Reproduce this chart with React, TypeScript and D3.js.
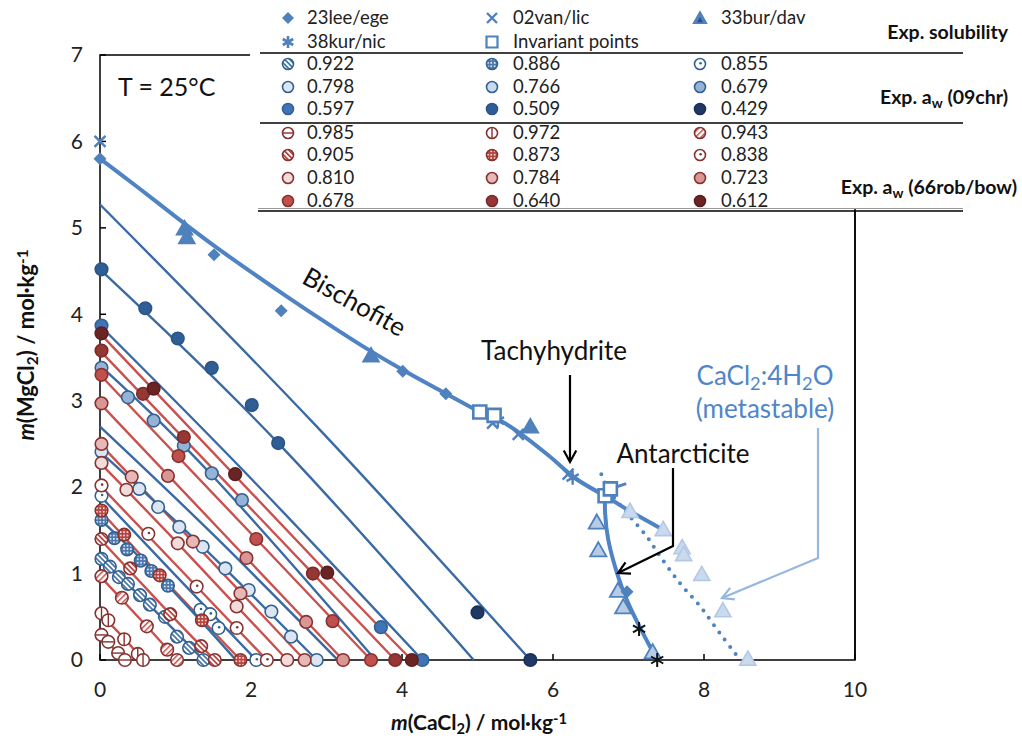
import React from "react";
import * as d3 from "d3";

type Pt = [number, number];

// ---------- axes ----------
const xTicks = [0, 2, 4, 6, 8, 10];
const yTicks = [0, 1, 2, 3, 4, 5, 6, 7];

// ---------- experimental solubility ----------
const lee23: Pt[] = [[0, 5.8], [1.51, 4.69], [2.4, 4.04], [4.01, 3.34], [4.58, 3.08], [6.98, 0.79]];
const van02: Pt[] = [[0, 6.0], [5.2, 2.74], [5.54, 2.61], [6.2, 2.15]];
const bur33: Pt[] = [[1.12, 4.98], [1.15, 4.88], [3.59, 3.51], [5.7, 2.69]];
const bur33Antarcticite: Pt[] = [[6.58, 1.58], [6.6, 1.26], [6.86, 0.79], [6.93, 0.6], [7.32, 0.08]];
const kur38: Pt[] = [[5.27, 2.77], [6.26, 2.11]];
const extraAsterisks: Pt[] = [[7.14, 0.36], [7.38, 0.0]];
const invariantPoints: Pt[] = [[5.03, 2.87], [5.22, 2.83], [6.69, 1.9], [6.76, 1.98]];
const metastableTriangles: Pt[] = [[7.02, 1.71], [7.46, 1.5], [7.71, 1.29], [7.73, 1.21], [7.97, 0.98], [8.25, 0.56], [8.58, 0.0]];

// ---------- solubility curves ----------
const bischofiteCurve: Pt[] = [[0, 5.8], [0.5, 5.47], [1, 5.13], [1.5, 4.8], [2, 4.49], [2.5, 4.19], [3, 3.9], [3.5, 3.62], [4, 3.36], [4.5, 3.12], [5.03, 2.87]];
const tachyhydriteCurve: Pt[] = [[5.03, 2.87], [5.3, 2.77], [5.6, 2.6], [5.95, 2.36], [6.3, 2.1], [6.69, 1.9]];
const antarcticiteCurve: Pt[] = [[6.69, 1.9], [6.69, 1.7], [6.73, 1.4], [6.85, 1.0], [6.98, 0.69], [7.15, 0.38], [7.38, 0]];
const antarcticiteUpper: Pt[] = [[6.69, 1.9], [7.02, 1.72], [7.47, 1.5]];
const shortBranch: Pt[] = [[6.76, 1.98], [6.97, 2.04]];
const tetrahydrateCurve: Pt[] = [[6.64, 2.15], [6.75, 1.95], [7.0, 1.68], [7.24, 1.43], [7.42, 1.2], [7.68, 0.89], [7.95, 0.62], [8.21, 0.31], [8.48, 0.0]];

// ---------- water activity, 09chr ----------
const chrLabels = ["0.922", "0.886", "0.855", "0.798", "0.766", "0.679", "0.597", "0.509", "0.429"];
const chrPoints: Pt[][] = [
  [[0.02, 1.17], [0.13, 1.08], [0.25, 0.96], [0.37, 0.88], [0.53, 0.75], [0.66, 0.64], [0.86, 0.5], [1.02, 0.27], [1.18, 0.14], [1.37, 0]],
  [[0.02, 1.62], [0.19, 1.41], [0.36, 1.28], [0.54, 1.15], [0.68, 1.03], [0.9, 0.86]],
  [[0.02, 1.9], [1.33, 0.58], [1.46, 0.53], [1.57, 0.37], [2.07, 0]],
  [[0.02, 2.41], [0.52, 1.98], [0.77, 1.77], [1.05, 1.54], [1.36, 1.31], [1.66, 1.06], [1.97, 0.81], [2.27, 0.56], [2.53, 0.27], [2.87, 0]],
  [],
  [[0.02, 3.38], [0.37, 3.04], [0.71, 2.77], [1.11, 2.48], [1.48, 2.16], [1.88, 1.85]],
  [[0.02, 3.87], [3.72, 0.38], [4.27, 0]],
  [[0.02, 4.52], [0.6, 4.07], [1.03, 3.72], [1.48, 3.38], [2.01, 2.95], [2.36, 2.51]],
  [[5.0, 0.55], [5.7, 0]],
];
const chrLines: Pt[][] = [
  [[0, 1.17], [0.66, 0.63], [1.37, 0]],
  [[0, 1.63], [0.9, 0.86], [1.8, 0]],
  [[0, 1.9], [1.0, 0.98], [2.07, 0]],
  [[0, 2.41], [1.36, 1.31], [2.87, 0]],
  [[0, 2.7], [1.5, 1.45], [3.15, 0]],
  [[0, 3.41], [1.48, 2.14], [3.65, 0]],
  [[0, 3.87], [2.0, 2.1], [4.27, 0]],
  [[0, 4.52], [2.36, 2.51], [4.95, 0]],
  [[0, 5.27], [2.85, 2.72], [5.7, 0]],
];

// ---------- water activity, 66rob/bow ----------
const robLabels = ["0.985", "0.972", "0.943", "0.905", "0.873", "0.838", "0.810", "0.784", "0.723", "0.678", "0.640", "0.612"];
const robPoints: Pt[][] = [
  [[0.02, 0.29], [0.11, 0.21], [0.24, 0.08], [0.33, 0]],
  [[0.02, 0.54], [0.11, 0.46], [0.32, 0.24], [0.5, 0.07], [0.57, 0]],
  [[0.02, 0.97], [0.29, 0.72], [0.62, 0.39], [0.89, 0.12], [1.02, 0]],
  [[0.02, 1.4], [0.4, 1.06], [0.93, 0.53], [1.34, 0.16], [1.52, 0]],
  [[0.02, 1.73], [0.32, 1.45], [0.79, 0.98], [1.35, 0.46], [1.86, 0]],
  [[0.02, 2.02], [0.64, 1.46], [1.28, 0.85], [1.81, 0.37], [2.21, 0]],
  [[0.02, 2.28], [0.35, 1.97], [1.03, 1.35], [1.81, 0.62], [2.48, 0]],
  [[0.02, 2.5], [0.42, 2.12], [1.23, 1.37], [1.86, 0.77], [2.71, 0]],
  [[0.02, 2.97], [0.9, 2.13], [1.94, 1.18], [2.73, 0.44], [3.22, 0]],
  [[0.02, 3.3], [1.04, 2.36], [2.07, 1.4], [3.08, 0.45], [3.59, 0]],
  [[0.02, 3.58], [0.57, 3.08], [1.11, 2.58], [2.82, 1.0], [3.91, 0]],
  [[0.02, 3.78], [0.71, 3.14], [1.79, 2.15], [3.01, 1.01], [4.13, 0]],
];
const robLines: Pt[][] = [
  [[0, 0.29], [0.33, 0]],
  [[0, 0.54], [0.32, 0.25], [0.57, 0]],
  [[0, 0.97], [0.62, 0.39], [1.02, 0]],
  [[0, 1.4], [0.93, 0.53], [1.52, 0]],
  [[0, 1.73], [0.79, 0.98], [1.86, 0]],
  [[0, 2.02], [1.28, 0.85], [2.21, 0]],
  [[0, 2.28], [1.03, 1.35], [2.48, 0]],
  [[0, 2.5], [1.23, 1.37], [2.71, 0]],
  [[0, 2.97], [1.94, 1.18], [3.22, 0]],
  [[0, 3.3], [2.07, 1.4], [3.59, 0]],
  [[0, 3.58], [2.82, 1.0], [3.91, 0]],
  [[0, 3.78], [3.01, 1.01], [4.13, 0]],
];

// ---------- styles ----------
type MarkStyle = { kind: "solid" | "pattern" | "dot" | "hline" | "vline"; fill: string; stroke: string };
const BLUE_EDGE = "#34618f";
const RED_EDGE = "#86322f";
const chrStyles: MarkStyle[] = [
  { kind: "pattern", fill: "url(#hatchBlue)", stroke: BLUE_EDGE },
  { kind: "pattern", fill: "url(#gridBlue)", stroke: BLUE_EDGE },
  { kind: "dot", fill: "#ffffff", stroke: BLUE_EDGE },
  { kind: "solid", fill: "#dce6f2", stroke: BLUE_EDGE },
  { kind: "solid", fill: "#c9daf0", stroke: BLUE_EDGE },
  { kind: "solid", fill: "#95b3d7", stroke: BLUE_EDGE },
  { kind: "solid", fill: "#3f74b8", stroke: BLUE_EDGE },
  { kind: "solid", fill: "#2f5e96", stroke: "#2a5585" },
  { kind: "solid", fill: "#1f3864", stroke: "#1b3158" },
];
const robStyles: MarkStyle[] = [
  { kind: "hline", fill: "#ffffff", stroke: RED_EDGE },
  { kind: "vline", fill: "#ffffff", stroke: RED_EDGE },
  { kind: "pattern", fill: "url(#hatchRedFwd)", stroke: RED_EDGE },
  { kind: "pattern", fill: "url(#hatchRed)", stroke: RED_EDGE },
  { kind: "pattern", fill: "url(#gridRed)", stroke: RED_EDGE },
  { kind: "dot", fill: "#ffffff", stroke: RED_EDGE },
  { kind: "solid", fill: "#f2dcdb", stroke: RED_EDGE },
  { kind: "solid", fill: "#e6b9b8", stroke: RED_EDGE },
  { kind: "solid", fill: "#d99694", stroke: RED_EDGE },
  { kind: "solid", fill: "#c0504d", stroke: RED_EDGE },
  { kind: "solid", fill: "#953735", stroke: "#7a2b29" },
  { kind: "solid", fill: "#6a2423", stroke: "#5a1f1e" },
];

const FONT = "Lato, 'Open Sans', 'DejaVu Sans', sans-serif";
const SOL_BLUE = "#4f83c4";
const LINE_BLUE = "#3a6aa4";
const LINE_RED = "#c9514e";

const x = d3.scaleLinear().domain([0, 10]).range([100, 855]);
const y = d3.scaleLinear().domain([0, 7]).range([660, 55]);

const smooth = d3.line<Pt>().x((d) => x(d[0])).y((d) => y(d[1])).curve(d3.curveNatural);
const straight = d3.line<Pt>().x((d) => x(d[0])).y((d) => y(d[1]));
const catmull = d3.line<Pt>().x((d) => x(d[0])).y((d) => y(d[1])).curve(d3.curveCatmullRom.alpha(0.5));

const glyph = {
  diamond: (s: number) => `M0,${-s}L${s},0L0,${s}L${-s},0Z`,
  cross: (s: number) => `M${-s},${-s}L${s},${s}M${-s},${s}L${s},${-s}`,
  asterisk: (s: number) =>
    `M0,${-s}L0,${s}M${-0.87 * s},${-0.5 * s}L${0.87 * s},${0.5 * s}M${-0.87 * s},${0.5 * s}L${0.87 * s},${-0.5 * s}`,
  triangle: (s: number) => `M0,${-s}L${0.9 * s},${0.58 * s}L${-0.9 * s},${0.58 * s}Z`,
  square: (s: number) => `M${-s},${-s}H${s}V${s}H${-s}Z`,
};

function Dot({ cx, cy, r, st }: { cx: number; cy: number; r: number; st: MarkStyle }) {
  return (
    <g>
      <circle cx={cx} cy={cy} r={r} fill={st.fill} stroke={st.stroke} strokeWidth={1.6} />
      {st.kind === "dot" && <circle cx={cx + 0.6} cy={cy - 0.8} r={1.3} fill={st.stroke} />}
      {st.kind === "hline" && <line x1={cx - r} x2={cx + r} y1={cy} y2={cy} stroke={st.stroke} strokeWidth={1.4} />}
      {st.kind === "vline" && <line x1={cx} x2={cx} y1={cy - r} y2={cy + r} stroke={st.stroke} strokeWidth={1.4} />}
    </g>
  );
}

function Arrowhead({ tipX, tipY, fromX, fromY, color }: { tipX: number; tipY: number; fromX: number; fromY: number; color: string }) {
  const ang = Math.atan2(tipY - fromY, tipX - fromX);
  const L = 13;
  const a1 = ang + Math.PI - 0.5;
  const a2 = ang + Math.PI + 0.5;
  return (
    <path
      d={`M${tipX + L * Math.cos(a1)},${tipY + L * Math.sin(a1)}L${tipX},${tipY}L${tipX + L * Math.cos(a2)},${tipY + L * Math.sin(a2)}`}
      fill="none"
      stroke={color}
      strokeWidth={2.2}
    />
  );
}

function Sub({ children }: { children: React.ReactNode }) {
  return (
    <tspan baselineShift="-25%" fontSize="70%">
      {children}
    </tspan>
  );
}
function Sup({ children }: { children: React.ReactNode }) {
  return (
    <tspan baselineShift="40%" fontSize="70%">
      {children}
    </tspan>
  );
}

export default function App() {
  const legendRows = [64, 87, 109];
  const legendRowsRob = [133, 155, 178, 201];
  const colMark = [288, 492, 700];
  const colText = [307, 513, 721];
  const LF = 18.5;

  return (
    <svg width={1022} height={744} style={{ position: "absolute", left: 0, top: 0, background: "#fff" }} fontFamily={FONT}>
      <defs>
        <pattern id="hatchBlue" width={3.6} height={3.6} patternUnits="userSpaceOnUse" patternTransform="rotate(-45)">
          <rect width={3.6} height={3.6} fill="#ffffff" />
          <rect width={1.7} height={3.6} fill="#3f6fa8" />
        </pattern>
        <pattern id="gridBlue" width={3.4} height={3.4} patternUnits="userSpaceOnUse">
          <rect width={3.4} height={3.4} fill="#4a78b0" />
          <circle cx={1.7} cy={1.7} r={0.95} fill="#ffffff" />
        </pattern>
        <pattern id="hatchRed" width={3.6} height={3.6} patternUnits="userSpaceOnUse" patternTransform="rotate(-45)">
          <rect width={3.6} height={3.6} fill="#ffffff" />
          <rect width={1.7} height={3.6} fill="#b2413e" />
        </pattern>
        <pattern id="hatchRedFwd" width={4} height={4} patternUnits="userSpaceOnUse" patternTransform="rotate(45)">
          <rect width={4} height={4} fill="#ffffff" />
          <rect width={1.5} height={4} fill="#c0504d" />
        </pattern>
        <pattern id="gridRed" width={3.4} height={3.4} patternUnits="userSpaceOnUse">
          <rect width={3.4} height={3.4} fill="#b8443f" />
          <circle cx={1.7} cy={1.7} r={0.95} fill="#ffffff" />
        </pattern>
      </defs>

      {/* frame */}
      <rect x={x(0)} y={y(7)} width={x(10) - x(0)} height={y(0) - y(7)} fill="none" stroke="#000" strokeWidth={1.5} />
      {yTicks.map((t) => (
        <g key={`yt${t}`}>
          <line x1={x(0)} x2={x(0) + 6} y1={y(t)} y2={y(t)} stroke="#000" strokeWidth={1.5} />
          <text x={83} y={y(t)} dy="0.35em" textAnchor="end" fontSize={21} fill="#222">
            {t}
          </text>
        </g>
      ))}
      {xTicks.map((t) => (
        <g key={`xt${t}`}>
          <line x1={x(t)} x2={x(t)} y1={y(0)} y2={y(0) - 6} stroke="#000" strokeWidth={1.5} />
          <text x={x(t)} y={690} dy="0.35em" textAnchor="middle" fontSize={21} fill="#222">
            {t}
          </text>
        </g>
      ))}

      {/* iso-activity lines */}
      {robLines.map((ln, i) => (
        <path key={`rl${i}`} d={smooth(ln) || ""} fill="none" stroke={LINE_RED} strokeWidth={2.4} />
      ))}
      {chrLines.map((ln, i) => (
        <path key={`cl${i}`} d={smooth(ln) || ""} fill="none" stroke={LINE_BLUE} strokeWidth={2.4} />
      ))}

      {/* iso-activity points */}
      {chrPoints.map((pts, i) =>
        pts.map((p, j) => <Dot key={`cp${i}-${j}`} cx={x(p[0])} cy={y(p[1])} r={6.3} st={chrStyles[i]} />)
      )}
      {robPoints.map((pts, i) =>
        pts.map((p, j) => <Dot key={`rp${i}-${j}`} cx={x(p[0])} cy={y(p[1])} r={6.3} st={robStyles[i]} />)
      )}

      {/* solubility curves */}
      <path d={catmull(bischofiteCurve) || ""} fill="none" stroke={SOL_BLUE} strokeWidth={4} />
      <path d={catmull(tachyhydriteCurve) || ""} fill="none" stroke={SOL_BLUE} strokeWidth={4} />
      <path d={catmull(antarcticiteCurve) || ""} fill="none" stroke={SOL_BLUE} strokeWidth={4} />
      <path d={straight(antarcticiteUpper) || ""} fill="none" stroke={SOL_BLUE} strokeWidth={4} />
      <path d={straight(shortBranch) || ""} fill="none" stroke={SOL_BLUE} strokeWidth={3} />
      <path
        d={catmull(tetrahydrateCurve) || ""}
        fill="none"
        stroke={SOL_BLUE}
        strokeWidth={4}
        strokeDasharray="0 9"
        strokeLinecap="round"
      />

      {/* experimental solubility */}
      {metastableTriangles.map((p, i) => (
        <path key={`mt${i}`} d={glyph.triangle(9)} transform={`translate(${x(p[0])},${y(p[1])})`} fill="#c9d9ee" stroke="#b4c8e4" strokeWidth={1.6} />
      ))}
      {bur33Antarcticite.map((p, i) => (
        <path key={`ba${i}`} d={glyph.triangle(9)} transform={`translate(${x(p[0])},${y(p[1])})`} fill="#b7cbe6" stroke="#4f81bd" strokeWidth={1.8} />
      ))}
      {bur33.map((p, i) => (
        <path key={`b${i}`} d={glyph.triangle(9)} transform={`translate(${x(p[0])},${y(p[1])})`} fill="#4f81bd" stroke="#4f81bd" strokeWidth={1.5} />
      ))}
      {lee23.map((p, i) => (
        <path key={`l${i}`} d={glyph.diamond(6.5)} transform={`translate(${x(p[0])},${y(p[1])})`} fill="#4f81bd" />
      ))}
      {van02.map((p, i) => (
        <path key={`v${i}`} d={glyph.cross(5.5)} transform={`translate(${x(p[0])},${y(p[1])})`} fill="none" stroke="#4f81bd" strokeWidth={2.4} />
      ))}
      {kur38.map((p, i) => (
        <path key={`k${i}`} d={glyph.asterisk(7)} transform={`translate(${x(p[0])},${y(p[1])})`} fill="none" stroke="#4f81bd" strokeWidth={2.4} />
      ))}
      {extraAsterisks.map((p, i) => (
        <path key={`e${i}`} d={glyph.asterisk(7)} transform={`translate(${x(p[0])},${y(p[1])})`} fill="none" stroke="#111" strokeWidth={2} />
      ))}
      {invariantPoints.map((p, i) => (
        <path key={`ip${i}`} d={glyph.square(6.5)} transform={`translate(${x(p[0])},${y(p[1])})`} fill="#ffffff" stroke="#4f81bd" strokeWidth={2.6} />
      ))}

      {/* annotations */}
      <text x={118} y={87} dy="0.35em" fontSize={25} fill="#111">
        T = 25°C
      </text>
      <text transform="translate(350,310) rotate(29)" textAnchor="middle" fontSize={26} fill="#111">
        Bischofite
      </text>
      <text x={554} y={360} textAnchor="middle" fontSize={26} fill="#111">
        Tachyhydrite
      </text>
      <line x1={570} x2={570} y1={375} y2={462} stroke="#000" strokeWidth={2.2} />
      <Arrowhead tipX={570} tipY={462} fromX={570} fromY={375} color="#000" />
      <text x={683} y={463} textAnchor="middle" fontSize={26} fill="#111">
        Antarcticite
      </text>
      <path d="M673,468V546L618,573" fill="none" stroke="#000" strokeWidth={2.2} />
      <Arrowhead tipX={618} tipY={573} fromX={673} fromY={546} color="#000" />
      <text x={765} y={385} textAnchor="middle" fontSize={26} fill="#4f86c9">
        CaCl<Sub>2</Sub>:4H<Sub>2</Sub>O
      </text>
      <text x={765} y={418} textAnchor="middle" fontSize={26} fill="#4f86c9">
        (metastable)
      </text>
      <path d="M818,428V558L722,598" fill="none" stroke="#95b7e0" strokeWidth={2.2} />
      <Arrowhead tipX={722} tipY={598} fromX={818} fromY={558} color="#95b7e0" />

      {/* axis titles */}
      <text x={479} y={730} textAnchor="middle" fontSize={21} fontWeight="bold" fill="#111">
        <tspan fontStyle="italic">m</tspan>(CaCl<Sub>2</Sub>) / mol·kg<Sup>-1</Sup>
      </text>
      <text transform="translate(34,345) rotate(-90)" textAnchor="middle" fontSize={22} fontWeight="bold" fill="#111">
        <tspan fontStyle="italic">m</tspan>(MgCl<Sub>2</Sub>) / mol·kg<Sup>-1</Sup>
      </text>

      {/* legend */}
      <rect x={250} y={0} width={772} height={208} fill="#ffffff" />
      <line x1={260} x2={963} y1={53} y2={53} stroke="#000" strokeWidth={1.5} />
      <line x1={260} x2={963} y1={123} y2={123} stroke="#000" strokeWidth={1.5} />
      <line x1={258} x2={963} y1={208.5} y2={208.5} stroke="#999" strokeWidth={1} />
      <line x1={258} x2={963} y1={211} y2={211} stroke="#000" strokeWidth={1.5} />

      <path d={glyph.diamond(6)} transform={`translate(${colMark[0]},18)`} fill="#4f81bd" />
      <text x={colText[0]} y={18} dy="0.35em" fontSize={LF} fill="#222">23lee/ege</text>
      <path d={glyph.cross(5)} transform={`translate(${colMark[1]},18)`} fill="none" stroke="#4f81bd" strokeWidth={2.4} />
      <text x={colText[1]} y={18} dy="0.35em" fontSize={LF} fill="#222">02van/lic</text>
      <path d={glyph.triangle(7.5)} transform={`translate(${colMark[2]},19)`} fill="#4f81bd" stroke="#4f81bd" strokeWidth={1.2} />
      <path d={glyph.triangle(3.2)} transform={`translate(${colMark[2]},20.5)`} fill="#2a4f7e" />
      <text x={colText[2]} y={18} dy="0.35em" fontSize={LF} fill="#222">33bur/dav</text>
      <path d={glyph.asterisk(6)} transform={`translate(${colMark[0]},42)`} fill="none" stroke="#4f81bd" strokeWidth={2.6} />
      <text x={colText[0]} y={42} dy="0.35em" fontSize={LF} fill="#222">38kur/nic</text>
      <path d={glyph.square(5.5)} transform={`translate(${colMark[1]},42)`} fill="#fff" stroke="#4f81bd" strokeWidth={2.2} />
      <text x={colText[1]} y={42} dy="0.35em" fontSize={LF} fill="#222">Invariant points</text>

      {chrLabels.map((lab, i) => {
        const cx = colMark[i % 3];
        const cy = legendRows[Math.floor(i / 3)];
        return (
          <g key={`lc${i}`}>
            <Dot cx={cx} cy={cy} r={5.5} st={chrStyles[i]} />
            <text x={colText[i % 3]} y={cy} dy="0.35em" fontSize={LF} fill="#222">
              {lab}
            </text>
          </g>
        );
      })}
      {robLabels.map((lab, i) => {
        const cx = colMark[i % 3];
        const cy = legendRowsRob[Math.floor(i / 3)];
        return (
          <g key={`lr${i}`}>
            <Dot cx={cx} cy={cy} r={5.5} st={robStyles[i]} />
            <text x={colText[i % 3]} y={cy} dy="0.35em" fontSize={LF} fill="#222">
              {lab}
            </text>
          </g>
        );
      })}

      <text x={1008} y={32} dy="0.35em" textAnchor="end" fontSize={19.5} fontWeight="bold" fill="#111">
        Exp. solubility
      </text>
      <text x={1008} y={97} dy="0.35em" textAnchor="end" fontSize={19.5} fontWeight="bold" fill="#111">
        Exp. a<Sub>w</Sub> (09chr)
      </text>
      <text x={1017} y={187} dy="0.35em" textAnchor="end" fontSize={19.5} fontWeight="bold" fill="#111">
        Exp. a<Sub>w</Sub> (66rob/bow)
      </text>
      <line x1={855} x2={855} y1={211} y2={660} stroke="#000" strokeWidth={1.5} />
    </svg>
  );
}
